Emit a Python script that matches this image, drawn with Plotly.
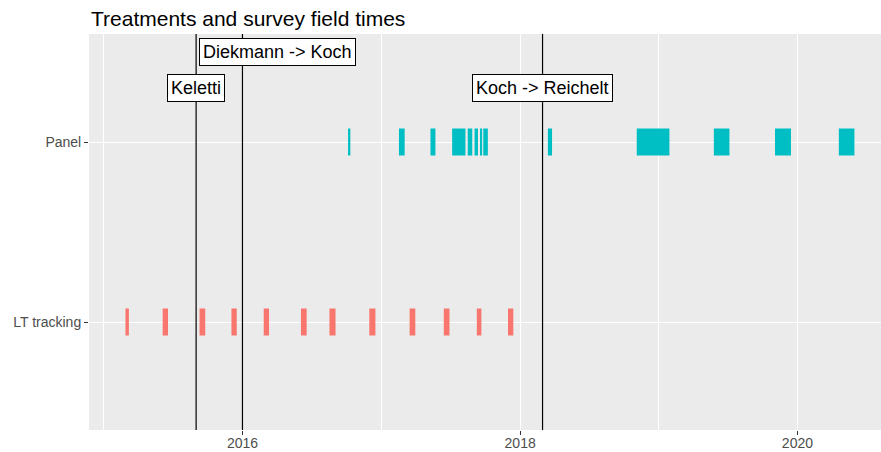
import pandas as pd
import plotly.graph_objects as go

# ---- data ----
groups = ["LT tracking", "Panel"]

panel_start = ["2016-10-05", "2017-02-16", "2017-05-10", "2017-07-06", "2017-08-16",
               "2017-09-03", "2017-09-18", "2017-09-26", "2018-03-15", "2018-11-04",
               "2019-05-26", "2019-11-03", "2020-04-19"]
panel_end = ["2016-10-11", "2017-03-03", "2017-05-23", "2017-08-10", "2017-08-28",
             "2017-09-12", "2017-09-23", "2017-10-08", "2018-03-26", "2019-01-29",
             "2019-07-06", "2019-12-15", "2020-05-30"]

lt_start = ["2015-02-27", "2015-06-05", "2015-09-10", "2015-12-03", "2016-02-26",
            "2016-06-03", "2016-08-17", "2016-11-30", "2017-03-16", "2017-06-14",
            "2017-09-09", "2017-11-30"]
lt_end = ["2015-03-08", "2015-06-19", "2015-09-25", "2015-12-17", "2016-03-11",
          "2016-06-18", "2016-09-02", "2016-12-16", "2017-03-31", "2017-06-29",
          "2017-09-21", "2017-12-14"]

event_dates = ["2015-09-01", "2016-01-01", "2018-03-01"]
event_labels = ["Keletti", "Diekmann -> Koch", "Koch -> Reichelt"]
label_dates = ["2015-09-01", "2016-04-01", "2018-03-01"]
label_levels = [2.3, 2.5, 2.3]  # position on the discrete y scale (1 = LT tracking, 2 = Panel)

x_range = ["2014-11-23", "2020-08-08"]
tick_dates = ["2016-01-01", "2018-01-01", "2020-01-01"]
tick_text = ["2016", "2018", "2020"]

colors = {"LT tracking": "#F8766D", "Panel": "#00BFC4"}

FONT = "Liberation Sans, Arial, sans-serif"


def durations(starts, ends):
    s = pd.to_datetime(pd.Series(starts))
    e = pd.to_datetime(pd.Series(ends))
    return ((e - s).dt.total_seconds() * 1000).tolist()


fig = go.Figure()
for name, starts, ends in [("LT tracking", lt_start, lt_end), ("Panel", panel_start, panel_end)]:
    d = durations(starts, ends)
    fig.add_trace(go.Bar(
        y=[name] * len(starts), x=d, base=list(starts), orientation="h",
        width=0.15, marker=dict(color=colors[name], line=dict(width=0)),
        showlegend=False, name=name,
    ))

for d in event_dates:
    fig.add_shape(type="line", xref="x", yref="paper", x0=d, x1=d, y0=0, y1=1,
                  line=dict(color="black", width=1.2), layer="above")

for d, txt, lv in zip(label_dates, event_labels, label_levels):
    fig.add_annotation(x=d, y=lv - 1, xref="x", yref="y", text=txt, showarrow=False,
                       font=dict(family=FONT, size=18, color="black"),
                       bgcolor="white", bordercolor="black", borderwidth=1, borderpad=3)

W, H = 881, 452
fig.update_layout(
    width=W, height=H,
    margin=dict(l=89, r=0, t=34, b=22, autoexpand=False),
    paper_bgcolor="white", plot_bgcolor="#EBEBEB",
    barmode="overlay",
    font=dict(family=FONT, size=14, color="#4D4D4D"),
    title=dict(text="Treatments and survey field times", x=91 / W, xanchor="left",
               xref="container", y=1 - 19 / H, yanchor="middle", yref="container",
               font=dict(size=21, color="black", family=FONT)),
)
fig.update_xaxes(
    type="date", range=x_range, tickvals=tick_dates, ticktext=tick_text,
    showgrid=True, gridcolor="white", gridwidth=1.3,
    minor=dict(dtick="M12", tick0="2015-01-01", showgrid=True, gridcolor="white", gridwidth=0.6),
    ticks="outside", ticklen=4, tickcolor="#333333", tickwidth=1, automargin=False,
    ticklabelstandoff=-4,
    tickfont=dict(size=14, color="#4D4D4D"), zeroline=False, showline=False,
)
fig.update_yaxes(
    type="category", categoryorder="array", categoryarray=groups, range=[-0.6, 1.6],
    showgrid=True, gridcolor="white", gridwidth=1.3, automargin=False,
    ticks="outside", ticklen=4, tickcolor="#333333", tickwidth=1,
    tickfont=dict(size=14, color="#4D4D4D"), zeroline=False, showline=False,
)

# remove the default 8px page margin so the 881x452 figure fills the window exactly
page_css = ("document.body.style.margin='0';"
            "document.body.style.overflow='hidden';"
            "document.documentElement.style.overflow='hidden';")
fig.write_html("out.html", post_script=page_css, config={"displayModeBar": False})
